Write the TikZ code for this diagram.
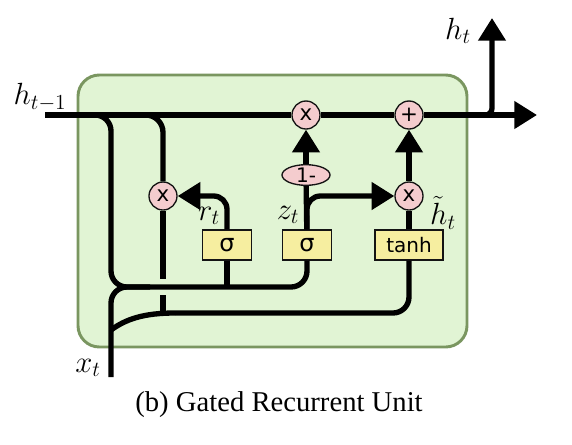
\RequirePackage{fix-cm}
\documentclass[tikz,border=0pt]{standalone}
\usepackage[no-math]{fontspec}
\setmainfont{Liberation Serif}
\setsansfont{DejaVu Sans}
\usetikzlibrary{arrows.meta,shapes.geometric}
\definecolor{cellgreen}{RGB}{225,244,212}
\definecolor{celledge}{RGB}{122,150,96}
\definecolor{oppink}{RGB}{244,204,206}
\definecolor{gateyellow}{RGB}{246,238,160}
\definecolor{ink}{RGB}{20,20,20}
\tikzset{
  >={Triangle[length=17pt,width=20pt]},
  wire/.style={line width=4pt,draw=black},
  op/.style={circle,draw=ink,fill=oppink,line width=1pt,inner sep=0pt,minimum size=21pt,
    font=\sffamily\fontsize{16}{16}\selectfont},
  gate/.style={draw=ink,fill=gateyellow,line width=1pt,inner sep=0pt,minimum height=22.5pt,
    minimum width=#1,font=\sffamily\fontsize{18}{18}\selectfont},
  gate/.default=36.75pt,
  lbl/.style={inner sep=0pt,font=\fontsize{23}{27}\selectfont},
}
\begin{document}
\begin{tikzpicture}[x=0.75pt,y=-0.75pt]
  \useasboundingbox (0,0) rectangle (572,444);
  % cell
  \draw[fill=cellgreen,draw=celledge,line width=2.2pt,rounded corners=16pt] (78,75) rectangle (467,347);
  % pointwise ops and gates
  \node[op] (mz) at (306,115) {x};
  \node[op] (plus) at (409,115) {+};
  \node[op] (mr) at (163,196) {x};
  \node[op] (mh) at (409,196) {x};
  \node[ellipse,draw=ink,fill=oppink,line width=1pt,inner sep=0pt,minimum width=36pt,minimum height=15pt,
    font=\sffamily\fontsize{15}{15}\selectfont] (oneminus) at (306,175) {1-};
  \node[gate] (sr) at (227,245) {σ};
  \node[gate] (sz) at (307,245) {σ};
  \node[gate=51pt,font=\sffamily\fontsize{15}{15}\selectfont] (th) at (409,245) {tanh};
  % free ends
  \coordinate (hin) at (45,115);
  \coordinate (hout) at (537,115);
  \coordinate (hsplit) at (470,115);
  \coordinate (htop) at (492,18);
  \coordinate (tap1) at (92,115);
  \coordinate (tap2) at (144,115);
  \coordinate (rail) at (111,287);
  \coordinate (merge) at (150,287);
  \coordinate (xin) at (111,377);
  \coordinate (xlow) at (111,330);
  \coordinate (rail2) at (175,313);
  \coordinate (gapa) at (163,279);
  \coordinate (gapb) at (163,295);
  % state line
  \draw[wire] (hin) -- (mz);
  \draw[wire] (mz) -- (plus);
  \draw[wire,->] (plus) -- (hout);
  \draw[wire,->,rounded corners=5pt] (hsplit) -| (htop);
  % inputs
  \draw[wire,rounded corners=12pt] (tap1) -| (rail) -| (sz.south);
  \draw[wire,rounded corners=12pt] (xin) |- (merge);
  \draw[wire] (sr.south) -- (sr.south |- rail);
  \draw[wire] (xlow) .. controls (126,319) and (144,313) .. (rail2);
  \draw[wire,rounded corners=12pt] (rail2) -| (th.south);
  \draw[wire,rounded corners=13pt] (tap2) -| (mr.north);
  % gates
  \draw[wire,->,rounded corners=10pt] (sr.north) |- (mr.east);
  \draw[wire] (sz) -- (oneminus);
  \draw[wire,->] (oneminus) -- (mz);
  \draw[wire,->,rounded corners=10pt] (sz.north) |- (mh.west);
  \draw[wire] (th) -- (mh);
  \draw[wire,->] (mh) -- (plus);
  \draw[wire] (mr) -- (gapa);
  \draw[wire] (gapb) -- (mr |- rail2);
  % labels
  \node[lbl] (lhprev) at (40,97) {$h_{t-1}$};
  \node[lbl] (lh) at (458,31) {$h_t$};
  \node[lbl] (lr) at (209,216) {$r_t$};
  \node[lbl] (lz) at (288,215) {$z_t$};
  \node[lbl] (lhtil) at (443,213) {$\tilde{h}_t$};
  \node[lbl] (lx) at (88,368) {$x_t$};
  \node[font=\fontsize{21.5}{26}\selectfont] (caption) at (279,405) {(b) Gated Recurrent Unit};
\end{tikzpicture}
\end{document}
